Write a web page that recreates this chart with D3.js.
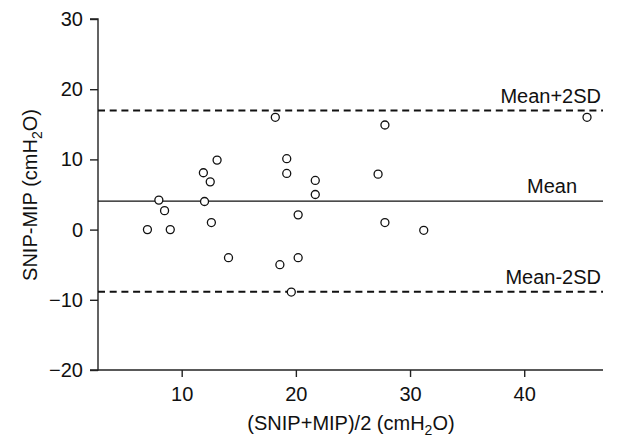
<!DOCTYPE html>
<html>
<head>
<meta charset="utf-8">
<script src="https://cdn.jsdelivr.net/npm/d3@7"></script>
<style>
  html, body { margin: 0; padding: 0; background: #fff; }
  svg { display: block; font-family: "Liberation Sans", Arial, sans-serif; }
</style>
</head>
<body>
<svg id="chart" width="619" height="441"></svg>
<script>
// Data
const averages = [7.0, 8.0, 8.5, 9.0, 11.9, 12.0, 12.5, 12.6, 13.1, 14.1, 18.2, 18.6, 19.2, 19.2, 19.6, 20.2, 20.2, 21.7, 21.7, 27.2, 27.8, 27.8, 31.2, 45.5];
const differences = [0.0, 4.2, 2.7, 0.0, 8.1, 4.0, 6.8, 1.0, 9.9, -4.0, 16.0, -5.0, 10.1, 8.0, -8.9, 2.1, -4.0, 7.0, 5.0, 7.9, 14.9, 1.0, -0.1, 16.0];
const refValues = [16.95, 4.05, -8.85];
const refLabels = ["Mean+2SD", "Mean", "Mean-2SD"];
const refDashed = [true, false, true];
const xTicks = [10, 20, 30, 40];
const yTicks = [-20, -10, 0, 10, 20, 30];

const svg = d3.select("#chart");
const x = d3.scaleLinear().domain([2.67, 46.9]).range([98, 603]);
const y = d3.scaleLinear().domain([-20, 30]).range([370, 19]);
const axisColor = "#222";

// Y axis
const gy = svg.append("g").attr("transform", "translate(98,0)")
  .call(d3.axisLeft(y).tickValues(yTicks).tickSize(8).tickPadding(7).tickFormat(d => d < 0 ? "\u2212" + Math.abs(d) : d));
// X axis
const gx = svg.append("g").attr("transform", "translate(0,370)")
  .call(d3.axisBottom(x).tickValues(xTicks).tickSizeInner(7).tickSizeOuter(0).tickPadding(9.5));
[gx, gy].forEach(g => {
  g.select(".domain").attr("stroke", axisColor).attr("stroke-width", 1.4);
  g.selectAll(".tick line").attr("stroke", axisColor).attr("stroke-width", 1.4);
  g.selectAll(".tick text").attr("fill", "#111").style("font-size", "20px").attr("font-family", "'Liberation Sans', Arial, sans-serif");
});
gy.select(".domain").attr("d", "M-8," + y(30) + "H0V" + y(-20) + "H-8");
gx.select(".domain").attr("d", "M" + x.range()[0] + ",0H" + x.range()[1]);

// Reference lines
svg.append("g").selectAll("line").data(refValues).join("line")
  .attr("x1", x.range()[0]).attr("x2", x.range()[1])
  .attr("y1", d => y(d)).attr("y2", d => y(d))
  .attr("stroke", "#111")
  .attr("stroke-width", (d, i) => refDashed[i] ? 2 : 1.3)
  .attr("stroke-dasharray", (d, i) => refDashed[i] ? "7,4.7" : null);

const labelX = [601, 577, 601];
svg.append("g").selectAll("text").data(refValues).join("text")
  .attr("x", (d, i) => labelX[i])
  .attr("y", d => y(d) - 8)
  .attr("text-anchor", "end")
  .style("font-size", "20px")
  .attr("fill", "#111")
  .text((d, i) => refLabels[i]);

// Points
svg.append("g").selectAll("circle").data(averages).join("circle")
  .attr("cx", d => x(d))
  .attr("cy", (d, i) => y(differences[i]))
  .attr("r", 4)
  .attr("fill", "#fff")
  .attr("stroke", "#111")
  .attr("stroke-width", 1.3);

// Axis titles
const xt = svg.append("text").attr("x", 351).attr("y", 430).attr("text-anchor", "middle")
  .style("font-size", "20px").attr("fill", "#111");
xt.append("tspan").text("(SNIP+MIP)/2 (cmH");
xt.append("tspan").attr("dy", 5).style("font-size", "14px").text("2");
xt.append("tspan").attr("dy", -5).text("O)");

const yt = svg.append("text").attr("transform", "translate(37,195) rotate(-90)").attr("text-anchor", "middle")
  .style("font-size", "20px").attr("fill", "#111");
yt.append("tspan").text("SNIP-MIP (cmH");
yt.append("tspan").attr("dy", 5).style("font-size", "14px").text("2");
yt.append("tspan").attr("dy", -5).text("O)");
</script>
</body>
</html>
